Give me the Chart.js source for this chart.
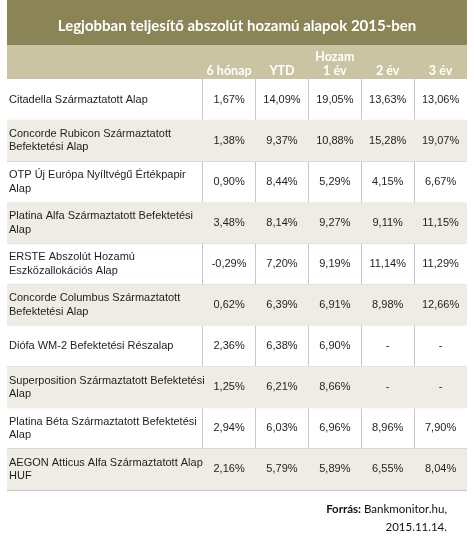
<!DOCTYPE html>
<html>
<head>
<meta charset="utf-8">
<script src="https://cdn.jsdelivr.net/npm/chart.js@4.4.0/dist/chart.umd.min.js"></script>
<style>
  html, body { margin: 0; padding: 0; background: #fff; }
  #wrap { position: relative; width: 474px; height: 540px; }
</style>
</head>
<body>
<div id="wrap"><canvas id="fundTable"></canvas></div>
<script>
// Table content
const title = 'Legjobban teljesítő abszolút hozamú alapok 2015-ben';
const groupLabel = 'Hozam';
const columnLabels = ['6 hónap', 'YTD', '1 év', '2 év', '3 év'];

const funds = [
    'Citadella Származtatott Alap',
    'Concorde Rubicon Származtatott\nBefektetési Alap',
    'OTP Új Európa Nyíltvégű Értékpapir\nAlap',
    'Platina Alfa Származtatott Befektetési\nAlap',
    'ERSTE Abszolút Hozamú\nEszközallokációs Alap',
    'Concorde Columbus Származtatott\nBefektetési Alap',
    'Diófa WM-2 Befektetési Részalap',
    'Superposition Származtatott Befektetési\nAlap',
    'Platina Béta Származtatott Befektetési\nAlap',
    'AEGON Atticus Alfa Származtatott Alap\nHUF'
];

// Returns in %, null = no data
const sixMonth  = [1.67, 1.38, 0.90, 3.48, -0.29, 0.62, 2.36, 1.25, 2.94, 2.16];
const ytd       = [14.09, 9.37, 8.44, 8.14, 7.20, 6.39, 6.38, 6.21, 6.03, 5.79];
const oneYear   = [19.05, 10.88, 5.29, 9.27, 9.19, 6.91, 6.90, 8.66, 6.96, 5.89];
const twoYear   = [13.63, 15.28, 4.15, 9.11, 11.14, 8.98, null, null, 8.96, 6.55];
const threeYear = [13.06, 19.07, 6.67, 11.15, 11.29, 12.66, null, null, 7.90, 8.04];

const sourceLabel = 'Forrás:';
const sourceText = ' Bankmonitor.hu,';
const sourceDate = '2015.11.14.';

const columns = [sixMonth, ytd, oneYear, twoYear, threeYear];

// x scale: name column spans NAME_COL units left of 0, each value column is 1 unit
const NAME_COL = 3.7;
const X_MIN = -NAME_COL, X_MAX = columns.length;

// every second row gets a beige band
const stripes = funds.map((_, i) => i % 2 ? [X_MIN, X_MAX] : null);

const fmt = v => v === null ? '-' : v.toFixed(2).replace('.', ',') + '%';

const tablePlugin = {
    id: 'tablePlugin',
    beforeDraw(chart) {
        const { ctx, chartArea: a, scales: { x } } = chart;
        const headH = 34;
        ctx.save();
        // title band
        ctx.fillStyle = '#8b8456';
        ctx.fillRect(a.left, 0, a.right - a.left, a.top - headH);
        // header band
        ctx.fillStyle = '#cac4a2';
        ctx.fillRect(a.left, a.top - headH, a.right - a.left, headH);

        ctx.fillStyle = '#ffffff';
        ctx.textAlign = 'center';
        ctx.textBaseline = 'middle';
        ctx.font = 'bold 15px Lato';
        ctx.fillText(title, (a.left + a.right) / 2, 26);

        ctx.font = 'bold 12.5px Lato';
        ctx.fillText(groupLabel, x.getPixelForValue(columns.length / 2), a.top - 22);
        columnLabels.forEach((lbl, c) => {
            ctx.fillText(lbl, x.getPixelForValue(c + 0.5), a.top - 8);
        });
        ctx.restore();
    },
    afterDraw(chart) {
        const { ctx, chartArea: a, scales: { x, y } } = chart;
        ctx.save();
        ctx.fillStyle = '#1e1e1e';
        ctx.textBaseline = 'middle';
        ctx.font = '11px "Liberation Sans", Arial';

        funds.forEach((name, r) => {
            const cy = y.getPixelForValue(r);
            const lines = name.split('\n');
            ctx.textAlign = 'left';
            lines.forEach((ln, k) => {
                ctx.fillText(ln, a.left + 2, cy + (k - (lines.length - 1) / 2) * 13.5);
            });
            ctx.textAlign = 'center';
            columns.forEach((col, c) => {
                ctx.fillText(fmt(col[r]), x.getPixelForValue(c + 0.5), cy);
            });
        });

        // source note, right aligned
        const right = 447;
        ctx.fillStyle = '#111111';
        ctx.textAlign = 'right';
        ctx.font = '11.5px Lato';
        ctx.fillText(sourceText, right, a.bottom + 19);
        const w = ctx.measureText(sourceText).width;
        ctx.font = 'bold 11.5px Lato';
        ctx.fillText(sourceLabel, right - w, a.bottom + 19);
        ctx.font = '11.5px Lato';
        ctx.fillText(sourceDate, right, a.bottom + 37);
        ctx.restore();
    }
};

const gridColor = '#c6c6c6';

new Chart(document.getElementById('fundTable'), {
    type: 'bar',
    data: {
        labels: funds,
        datasets: [{
            data: stripes,
            backgroundColor: '#eeece4',
            borderWidth: 0,
            barPercentage: 1,
            categoryPercentage: 1
        }]
    },
    options: {
        indexAxis: 'y',
        responsive: true,
        maintainAspectRatio: false,
        animation: false,
        layout: { padding: { left: 7, right: 7, top: 79, bottom: 50 } },
        plugins: {
            legend: { display: false },
            tooltip: { enabled: false },
            title: { display: false }
        },
        scales: {
            x: {
                type: 'linear',
                min: X_MIN,
                max: X_MAX,
                z: 1,
                afterBuildTicks: s => { s.ticks = [0, 1, 2, 3, 4].map(v => ({ value: v })); },
                ticks: { display: false },
                grid: { color: gridColor, drawTicks: false },
                border: { display: false }
            },
            y: {
                z: 1,
                ticks: { display: false },
                grid: {
                    offset: true,
                    drawTicks: false,
                    color: c => (c.index === 0 || c.index >= funds.length) ? 'rgba(0,0,0,0)' : gridColor
                },
                border: { display: false }
            }
        }
    },
    plugins: [tablePlugin]
});
</script>
</body>
</html>
